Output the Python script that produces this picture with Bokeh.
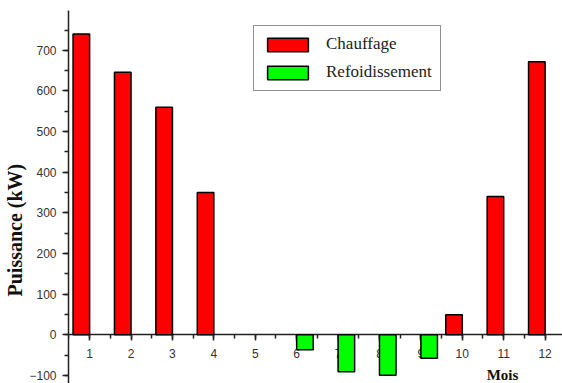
from bokeh.plotting import figure
from bokeh.models import ColumnDataSource, SingleIntervalTicker, Label, Range1d, Title
from bokeh.transform import dodge
from bokeh.embed import file_html
from bokeh.resources import INLINE

nan = float("nan")
mois = [1, 2, 3, 4, 5, 6, 7, 8, 9, 10, 11, 12]
chauffage = [740, 646, 560, 350, nan, nan, nan, nan, nan, 49, 340, 672]
refroidissement = [nan, nan, nan, nan, nan, -37, -91, -100, -58, nan, nan, nan]

source = ColumnDataSource(dict(mois=mois, chauffage=chauffage, refroid=refroidissement))

p = figure(width=562, height=383, output_backend="svg", toolbar_location=None,
           x_range=Range1d(0.49, 12.42), y_range=Range1d(-120, 798),
           min_border_left=68, min_border_right=0, min_border_top=10, min_border_bottom=0)
p.outline_line_color = None
p.grid.visible = False
p.background_fill_color = "white"

r1 = p.vbar(x=dodge('mois', -0.2), top='chauffage', width=0.4, source=source,
            fill_color="#FF0000", line_color="black", line_width=1.5,
            legend_label="Chauffage")
r2 = p.vbar(x=dodge('mois', 0.2), top='refroid', width=0.4, source=source,
            fill_color="#00FF00", line_color="black", line_width=1.5,
            legend_label="Refoidissement")
r1.level = "annotation"
r2.level = "annotation"

xa = p.xaxis[0]
xa.fixed_location = 0
xa.ticker = SingleIntervalTicker(interval=1, num_minor_ticks=2)
xa.axis_line_width = 1.5
xa.axis_line_color = "#222222"
xa.major_tick_in = 0
xa.major_tick_out = 6
xa.minor_tick_in = 0
xa.minor_tick_out = 4
xa.major_tick_line_width = 1.5
xa.minor_tick_line_width = 1.5
xa.major_tick_line_color = "#222222"
xa.minor_tick_line_color = "#222222"
xa.major_label_text_font = "Liberation Sans"
xa.major_label_text_font_size = "12px"
xa.major_label_text_color = "#333333"
xa.major_label_standoff = 8

ya = p.yaxis[0]
ya.ticker = SingleIntervalTicker(interval=100, num_minor_ticks=2)
ya.axis_line_width = 1.5
ya.axis_line_color = "#222222"
ya.major_tick_in = 0
ya.major_tick_out = 6
ya.minor_tick_in = 0
ya.minor_tick_out = 4
ya.major_tick_line_width = 1.5
ya.minor_tick_line_width = 1.5
ya.major_tick_line_color = "#222222"
ya.minor_tick_line_color = "#222222"
ya.major_label_text_font = "Liberation Sans"
ya.major_label_text_font_size = "12px"
ya.major_label_text_color = "#333333"
ya.major_label_standoff = 6

ytitle = Title(text="Puissance (kW)", align="left", offset=87, standoff=0,
               vertical_align="middle",
               text_font="Liberation Serif", text_font_style="bold",
               text_font_size="20px", text_color="#111111")
p.add_layout(ytitle, "left")

p.add_layout(Label(x=10.97, y=-100, text="Mois",
                   text_align="center", text_baseline="middle",
                   text_font="Liberation Serif", text_font_style="bold",
                   text_font_size="15px", text_color="#111111"))

lg = p.legend[0]
lg.location = (185, 292)
lg.padding = 8
lg.margin = 0
lg.spacing = 8
lg.glyph_width = 51
lg.glyph_height = 17
lg.label_height = 17
lg.label_standoff = 13
lg.label_text_font = "Liberation Serif"
lg.label_text_font_size = "17px"
lg.label_text_color = "#222222"
lg.border_line_color = "#222222"
lg.border_line_width = 1.5
lg.background_fill_alpha = 1

open("out.html", "w").write(file_html(p, INLINE))
